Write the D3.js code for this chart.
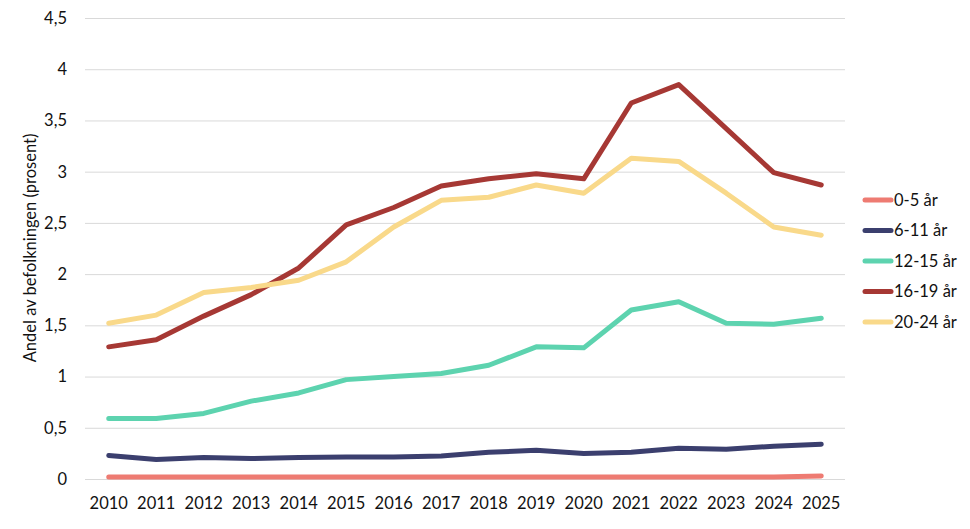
<!DOCTYPE html>
<html><head><meta charset="utf-8">
<script src="https://cdn.jsdelivr.net/npm/d3@7"></script>
<style>body{margin:0;background:#fff;} text{font-family:Lato,"Open Sans",sans-serif;fill:#111;}</style>
</head><body><svg id="c" width="970" height="529"></svg>
<script>
const years = ["2010","2011","2012","2013","2014","2015","2016","2017","2018","2019","2020","2021","2022","2023","2024","2025"];
const yTicks = [0,0.5,1,1.5,2,2.5,3,3.5,4,4.5];
const seriesNames = ["0-5 år","6-11 år","12-15 år","16-19 år","20-24 år"];
const colors = ["#ee7b72","#3b3f6e","#5dd3af","#a63834","#f9d98a"];
const v0_5   = [0.02,0.02,0.02,0.02,0.02,0.02,0.02,0.02,0.02,0.02,0.02,0.02,0.02,0.02,0.02,0.03];
const v6_11  = [0.23,0.19,0.21,0.20,0.21,0.215,0.215,0.225,0.26,0.28,0.25,0.26,0.30,0.29,0.32,0.34];
const v12_15 = [0.59,0.59,0.64,0.76,0.84,0.97,1.0,1.03,1.11,1.29,1.28,1.65,1.73,1.52,1.51,1.57];
const v16_19 = [1.29,1.36,1.59,1.80,2.06,2.48,2.65,2.86,2.93,2.98,2.93,3.67,3.85,3.42,2.99,2.87];
const v20_24 = [1.52,1.60,1.82,1.87,1.94,2.12,2.46,2.72,2.75,2.87,2.79,3.13,3.10,2.79,2.46,2.38];
const allSeries = [v0_5,v6_11,v12_15,v16_19,v20_24];

const svg = d3.select("#c");
const pL=85, pR=845, pT=18, pB=479;
const x = d3.scalePoint().domain(years).range([pL,pR]).padding(0.5);
const y = d3.scaleLinear().domain([0,4.5]).range([pB,pT]);

// grid
svg.append("g").selectAll("line").data(yTicks).join("line")
  .attr("x1",pL).attr("x2",pR).attr("y1",d=>y(d)+0.5).attr("y2",d=>y(d)+0.5)
  .attr("stroke","#d9d9d9").attr("stroke-width",1);

// y tick labels
svg.append("g").selectAll("text").data(yTicks).join("text")
  .attr("x",67).attr("y",d=>y(d)).attr("dy","0.36em").attr("text-anchor","end")
  .attr("font-size",16.5).text(d=>String(d).replace(".",","));

// x labels
svg.append("g").selectAll("text").data(years).join("text")
  .attr("x",d=>x(d)).attr("y",503).attr("dy","0.36em").attr("text-anchor","middle")
  .attr("font-size",16.5).text(d=>d);

// y title
svg.append("text").attr("transform","translate(30,248) rotate(-90)")
  .attr("text-anchor","middle").attr("dy","0.36em").attr("font-size",16.5)
  .text("Andel av befolkningen (prosent)");

const line = d3.line().x((d,i)=>x(years[i])).y(d=>y(d));
svg.append("g").selectAll("path").data(allSeries).join("path")
  .attr("d",line).attr("fill","none").attr("stroke",(d,i)=>colors[i])
  .attr("stroke-width",5).attr("stroke-linejoin","round").attr("stroke-linecap","round");

// legend
const lg = svg.append("g").selectAll("g").data(seriesNames).join("g")
  .attr("transform",(d,i)=>`translate(0,${200+i*30.5})`);
lg.append("line").attr("x1",865).attr("x2",891).attr("y1",0).attr("y2",0)
  .attr("stroke",(d,i)=>colors[i]).attr("stroke-width",5).attr("stroke-linecap","round");
lg.append("text").attr("x",894).attr("y",0).attr("dy","0.36em").attr("font-size",16.5).text(d=>d);
</script></body></html>
